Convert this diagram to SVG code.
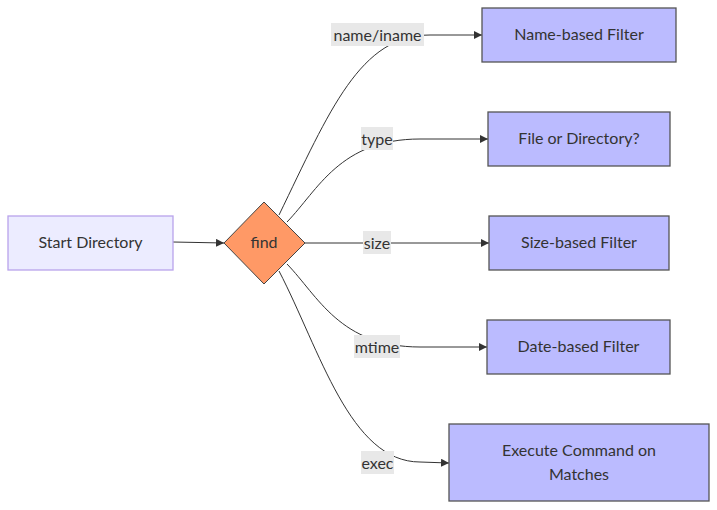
<svg xmlns="http://www.w3.org/2000/svg" width="717" height="510" viewBox="0 0 717 510">
<defs>
<marker id="arr" viewBox="0 0 10 10" refX="10" refY="5" markerWidth="8" markerHeight="8" markerUnits="userSpaceOnUse" orient="auto">
<path d="M0,0 L10,5 L0,10 z" fill="#333"/>
</marker>
</defs>
<style>
text{font-family:"Lato","Noto Sans",sans-serif;font-size:16px;fill:#333;text-anchor:middle;dominant-baseline:central}
.filter{fill:#BBBBFF;stroke:#555;stroke-width:1.3}
.edge{fill:none;stroke:#333;stroke-width:1}
.lbl{fill:#e8e8e8}
</style>
<rect width="717" height="510" fill="#fff"/>
<g id="edges">
<path class="edge" d="M173,242 L224,243" marker-end="url(#arr)"/>
<path class="edge" d="M279,215 C330,110 360,35 430,35 L482,35" marker-end="url(#arr)"/>
<path class="edge" d="M287,222 C318,190 340,139 420,139 L488,139" marker-end="url(#arr)"/>
<path class="edge" d="M305,243 L489,243" marker-end="url(#arr)"/>
<path class="edge" d="M287,264 C318,296 340,347 420,347 L487,347" marker-end="url(#arr)"/>
<path class="edge" d="M279,271 C320,350 350,462 420,462 L449,463" marker-end="url(#arr)"/>
</g>
<g id="edge-labels">
<rect class="lbl" x="331" y="23" width="93" height="23"/><text x="377.5" y="34">name/iname</text>
<rect class="lbl" x="361" y="127" width="32" height="23"/><text x="377" y="138">type</text>
<rect class="lbl" x="363" y="231" width="28" height="23"/><text x="377" y="242">size</text>
<rect class="lbl" x="354" y="335" width="46" height="23"/><text x="377" y="346">mtime</text>
<rect class="lbl" x="361" y="451" width="33" height="23"/><text x="377.5" y="462">exec</text>
</g>
<g id="start">
<rect x="8" y="216" width="165" height="54" fill="#ECECFF" stroke="#b9a3ec" stroke-width="1.3"/>
<text x="90.5" y="241">Start Directory</text>
</g>
<g id="find">
<polygon points="264,202 305,243 264,284 224,243" fill="#FF9966" stroke="#444" stroke-width="1"/>
<text x="264" y="241">find</text>
</g>
<g id="name">
<rect class="filter" x="482" y="8" width="194" height="54"/>
<text x="579" y="33">Name-based Filter</text>
</g>
<g id="type">
<rect class="filter" x="488" y="112" width="182" height="54"/>
<text x="579" y="137">File or Directory?</text>
</g>
<g id="size">
<rect class="filter" x="489" y="216" width="180" height="54"/>
<text x="579" y="241">Size-based Filter</text>
</g>
<g id="mtime">
<rect class="filter" x="487" y="320" width="183" height="54"/>
<text x="578.5" y="345">Date-based Filter</text>
</g>
<g id="exec">
<rect class="filter" x="449" y="424" width="260" height="77"/>
<text x="579" y="449">Execute Command on</text>
<text x="579" y="473">Matches</text>
</g>
</svg>
